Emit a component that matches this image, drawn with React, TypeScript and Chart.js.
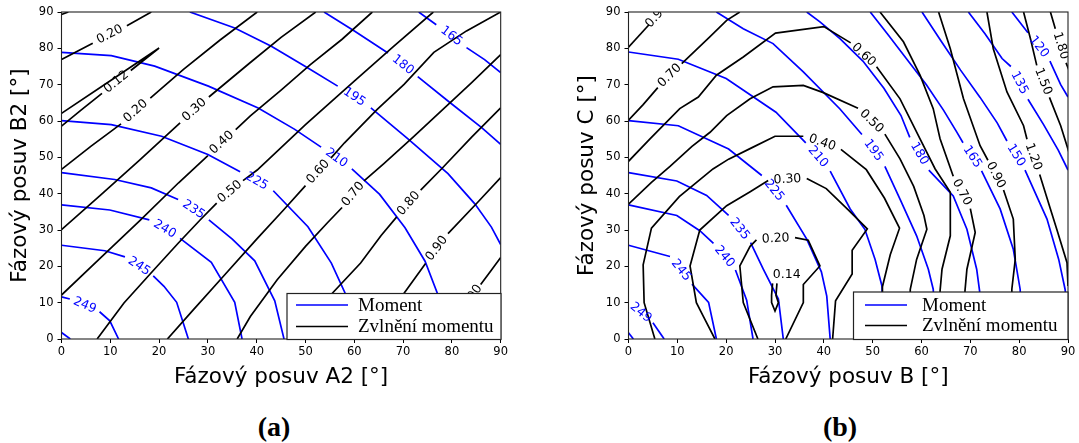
import React, { useEffect, useRef } from "react";
import { Chart, registerables } from "chart.js";

Chart.register(...registerables);

type Pt = [number, number] | null;

// ---------- axes ----------
const axisMin = 0;
const axisMax = 90;
const axisStep = 10;

// ---------- chart (a): Moment contours (blue) ----------
const aMomentCorner: Pt[] = [[0, 1.8], [1.8, 0]];
const aMoment249: Pt[] = [[0, 11.6], [1.7, 11], null, [7.8, 7.5], [9.9, 5], [11.7, 0]];
const aMoment245: Pt[] = [[0, 25.8], [8.9, 24.3], [13, 22.6], null, [18.8, 17.4], [21, 14.5], [23.6, 10.1], [26, 0]];
const aMoment240: Pt[] = [[0, 36.9], [9.9, 35.5], [18, 32.8], null, [24.3, 27.7], [30.7, 21.1], [35.5, 10.1], [37, 0]];
const aMoment235: Pt[] = [[0, 45.8], [10.9, 43.9], [18.4, 41.6], [23.9, 38.4], null, [30.2, 32.8], [35, 27.5], [39.6, 21.5], [43.7, 10.5], [45.6, 0]];
const aMoment225: Pt[] = [[0, 60.1], [10.2, 59], [20.5, 55.8], [30, 50.8], [36.6, 46], null, [43.4, 40.8], [50.5, 30.9], [55.3, 20.9], [58.1, 12.7], [59.1, 0]];
const aMoment210: Pt[] = [[0, 78.9], [10.2, 78], [19.1, 75.1], [30.1, 69.6], [40.3, 63.6], [47.8, 57.7], [53.2, 52.8], null, [59.5, 46.8], [65.2, 39.8], [70.4, 30.6], [74.5, 21.4], [77, 12.7], [78.3, 0]];
const aMoment195: Pt[] = [[26.3, 90], [35.5, 85.6], [43, 80.6], [50.5, 74.6], [56.6, 69.6], null, [63.4, 63.6], [71, 55.1], [79.2, 45.5], [84.7, 37.2], [88.1, 30.8], [90, 26]];
const aMoment180: Pt[] = [[53.8, 90], [60.1, 84.7], [66.9, 78.7], null, [73, 72.2], [79.2, 65.5], [86.1, 58.2], [90, 53.6]];
const aMoment165: Pt[] = [[73.2, 90], [76.8, 86.5], null, [83, 80.2], [86.7, 76.9], [90, 73.3]];

// ---------- chart (a): ripple contours (black) ----------
const aRippleCorner: Pt[] = [[0, 89.3], [1.4, 90]];
const aRipple020u: Pt[] = [[0, 76.9], [6.4, 81.4], null, [13.4, 86.2], [18.4, 90]];
const aRipple012: Pt[] = [[0, 58.6], [4, 63], [8.3, 67.6], null, [14.2, 73.9], [20, 80.1], [10, 71.1], [0, 62.1]];
const aRipple020l: Pt[] = [[0, 46.7], [6, 53], [12.2, 59.2], null, [18.2, 66.3], [25, 74.2], [32.5, 82.3], [40.1, 90]];
const aRipple030: Pt[] = [[0, 30.1], [8, 39.6], [16, 49.2], [24.3, 59.5], null, [30.2, 66.6], [38.7, 76.1], [45, 83], [52.1, 90]];
const aRipple040: Pt[] = [[0, 12.1], [8, 22.3], [16, 32.5], [24, 43], [30, 50.5], null, [35.7, 57.6], [38.7, 61.4], [45, 68.5], [51, 75.5], [57.5, 82.5], [63.7, 90]];
const aRipple050: Pt[] = [[7.3, 0], [12.8, 9.9], [18.9, 19], [24, 26.5], [28.5, 32.9], [31.8, 37.4], null, [37.2, 43.6], [40.1, 46.5], [50, 59], [60, 71], [68, 80.5], [76.2, 90]];
const aRipple060: Pt[] = [[21.7, 0], [27, 8], [33, 17], [40, 27.5], [45.5, 35.5], [50, 42.2], null, [55.2, 49.8], [58, 54], [64.7, 63.2], [70.2, 70.1], [76.3, 78.9], [83, 84.8], [90, 90]];
const aRipple070: Pt[] = [[36, 0], [38.7, 6.2], [44.2, 16.3], [50, 25.5], [54.5, 32], [57.5, 36.2], null, [62, 43.5], [66, 48.2], [72, 55.5], [78, 63], [84, 70.5], [90, 78.3]];
const aRipple080: Pt[] = [[48.5, 0], [55.5, 12.6], [61.3, 20.9], [65.5, 28.5], [68.7, 33.6], null, [73.6, 41], [78, 47], [84, 55.5], [90, 63.6]];
const aRipple090: Pt[] = [[64, 0], [70.2, 12.6], [74.6, 20.8], null, [79.2, 29], [85.2, 37.5], [90, 44.4]];
const aRipple100: Pt[] = [[78, 0], [82.2, 7.8], null, [85.9, 15], [88, 18.8], [90, 22.4]];

// ---------- chart (b): Moment contours (blue) ----------
const bMomentCorner: Pt[] = [[0, 1.7], [1, 0]];
const bMoment249: Pt[] = [[0, 10], null, [5, 4.5], [7.3, 0]];
const bMoment245: Pt[] = [[0, 25.8], [8.5, 22.7], null, [13, 15.1], [16.4, 10.1], [18, 0]];
const bMoment240: Pt[] = [[0, 36.9], [9.9, 34], [14.6, 29.8], [17.4, 26.3], null, [21.9, 19], [24.2, 10.7], [25.5, 0]];
const bMoment235: Pt[] = [[0, 45.8], [9.9, 43.5], [16, 39.5], [20.5, 34], null, [25, 26.5], [27.6, 19.2], [30.7, 11], [31.7, 0]];
const bMoment225: Pt[] = [[0, 60.1], [10.2, 58.7], [20.5, 52.3], [27.3, 45], null, [32.3, 36.8], [36.5, 27.5], [39.5, 18.5], [40.6, 11.8], [41.3, 0]];
const bMoment210: Pt[] = [[0, 79], [10.2, 77], [20, 71.7], [30.2, 62.4], [36.3, 54], null, [41.3, 46.2], [45.4, 35.8], [48.4, 30.2], [50.5, 21.9], [51.9, 14.6], [52.3, 0]];
const bMoment195: Pt[] = [[18, 90], [23.5, 85.4], [29.6, 81.3], [35.8, 73.5], [43.3, 63.3], [47.8, 56.3], null, [52.5, 47.5], [55.6, 38.5], [59, 28.4], [61.4, 19.2], [62.4, 13.7], [63, 0]];
const bMoment180: Pt[] = [[36.5, 90], [39.2, 87.3], [43.3, 82.7], [48, 76.5], [52.3, 69], [55.8, 61.5], [57.6, 55.5], null, [61.5, 46.5], [66.5, 39.4], [69.3, 30.2], [71.3, 19.2], [71.9, 13.2], [72.2, 0]];
const bMoment165: Pt[] = [[49.5, 90], [53, 84], [57, 77], [61, 70], [64.5, 63], [67.2, 57], [68.5, 54], null, [72.3, 46.3], [76.1, 35.8], [78.8, 24.7], [80.2, 13.7], [80.6, 0]];
const bMoment150: Pt[] = [[60.1, 90], [64, 82], [68, 74], [72, 66.5], [75.5, 59.5], [77.5, 54.5], null, [81.2, 46.5], [85.7, 33], [88.1, 21.9], [89.4, 13.7], [90, 6]];
const bMoment135: Pt[] = [[69.6, 90], [73, 84], [76.5, 77.2], [78.3, 75], null, [81.8, 66], [85, 59], [88, 52], [90, 46.5]];
const bMoment120: Pt[] = [[78.5, 90], [81.8, 84.3], null, [86.3, 76.5], [88.5, 70], [90, 66.6]];

// ---------- chart (b): ripple contours (black) ----------
const bRipple014: Pt[] = [[29.5, 15.3], [29.3, 12], [29.3, 10], [30, 7.7], [30.7, 10], [30.2, 12], [30.4, 15.3]];
const bRipple020: Pt[] = [[26.5, 0], [23.5, 10], [22.8, 20.1], [24.9, 25.5], [26.2, 27.3], null, [34.1, 27.9], [36.8, 27.2], [39.2, 20.1], [35.8, 15], [35.8, 10], [32.2, 0]];
const bRipple030: Pt[] = [[17.7, 0], [15.3, 6.3], [13.9, 10], [12.6, 20.1], [14.6, 30], [20.1, 36.7], [25, 40.6], [28.6, 43.6], null, [36.5, 44.2], [40.5, 41.4], [45.1, 35.4], [48.9, 30.3], [45.8, 24.4], [45.8, 17.9], [42.4, 10.5], [41.8, 0]];
const bRipple040: Pt[] = [[5.4, 0], [3.2, 10], [3, 20.4], [4.7, 30.5], [10.4, 39.2], [17.3, 46.8], [20.5, 49.5], [25.2, 52.6], [30, 55.8], [35.8, 55.8], null, [43.5, 52.2], [48.7, 46.6], [52.4, 38.8], [55.5, 30.5], [53.6, 23.2], [52, 14.4], [52, 0]];
const bRipple050: Pt[] = [[0, 37.1], [4.7, 43.1], [8.5, 47.5], [13, 53], [16.7, 56.9], [20.1, 61.5], [24.9, 66.1], [29.6, 69.4], [35.8, 69.8], [39.9, 67.8], [47, 63.5], null, [52.5, 56.4], [55.6, 49.6], [58.4, 42], [60.5, 34], [61.1, 30.2], [59, 21.9], [57.7, 13.7], [57.5, 0]];
const bRipple060: Pt[] = [[0, 48.9], [4.4, 55.1], [10.5, 63.4], [14.3, 66.6], [18, 72.6], [23.5, 77.6], [30.1, 84.2], [40, 86], [45.5, 81.5], null, [50.8, 74.9], [55.6, 66.1], [59.7, 55.1], [62.8, 46.8], [65.9, 40.4], [65.9, 28.4], [64.2, 19.2], [63.8, 13.2], [64, 0]];
const bRipple070L: Pt[] = [[0, 60.2], [3, 64.5], [6, 69.2], null, [10.9, 75.8], [16.7, 83.2], [20.1, 87.7], [22.8, 90]];
const bRipple070R: Pt[] = [[51.5, 90], [56.3, 81.8], [59.7, 72.6], [62.4, 63.4], [63.8, 55.1], [66.5, 44.8], null, [70, 35.9], [71, 29.3], [69.3, 19.2], [68.9, 13.2], [69, 0]];
const bRipple090L: Pt[] = [[0, 80.3], [4.2, 86.5], null, [7.5, 91.5]];
const bRipple090R: Pt[] = [[63.5, 90], [65.9, 79.9], [68.6, 66.1], [72, 53.2], [73.6, 49.2], null, [76.8, 41], [78.8, 33], [79.2, 21.9], [78.5, 13.7], [78.5, 0]];
const bRipple120: Pt[] = [[73.4, 90], [74.7, 79.9], [77.5, 68], [80.9, 58.7], [81.6, 55], null, [84.2, 45.3], [86.4, 35.8], [87.7, 30.2], [89.8, 21], [90, 14.6]];
const bRipple150: Pt[] = [[80.9, 90], [82.3, 82.7], [83.6, 75.3], null, [86.2, 66.5], [88.5, 58.7], [90.2, 51.4]];
const bRipple180: Pt[] = [[86.4, 90], [87.4, 85.4], null, [89.6, 76], [90.2, 74]];
const bExtraLabels: [string, number, number, number][] = [["0.14", 32.4, 17.6, 0]];

// ---------- level / series lists ----------
const momentA: [string, Pt[]][] = [
  ["", aMomentCorner], ["249", aMoment249], ["245", aMoment245], ["240", aMoment240], ["235", aMoment235],
  ["225", aMoment225], ["210", aMoment210], ["195", aMoment195], ["180", aMoment180], ["165", aMoment165],
];
const rippleA: [string, Pt[]][] = [
  ["", aRippleCorner], ["0.20", aRipple020u], ["0.12", aRipple012], ["0.20", aRipple020l], ["0.30", aRipple030],
  ["0.40", aRipple040], ["0.50", aRipple050], ["0.60", aRipple060], ["0.70", aRipple070], ["0.80", aRipple080],
  ["0.90", aRipple090], ["1.00", aRipple100],
];
const momentB: [string, Pt[]][] = [
  ["", bMomentCorner], ["249", bMoment249], ["245", bMoment245], ["240", bMoment240], ["235", bMoment235],
  ["225", bMoment225], ["210", bMoment210], ["195", bMoment195], ["180", bMoment180], ["165", bMoment165],
  ["150", bMoment150], ["135", bMoment135], ["120", bMoment120],
];
const rippleB: [string, Pt[]][] = [
  ["0.14", bRipple014], ["0.20", bRipple020], ["0.30", bRipple030], ["0.40", bRipple040], ["0.50", bRipple050],
  ["0.60", bRipple060], ["0.70", bRipple070L], ["0.70", bRipple070R], ["0.90", bRipple090L], ["0.90", bRipple090R],
  ["1.20", bRipple120], ["1.50", bRipple150], ["1.80", bRipple180],
];

const legendLabels = ["Moment", "Zvlnění momentu"];

const BLUE = "#0000ff";
const BLACK = "#000000";

function toData(pts: Pt[]) {
  return pts.map((p) => (p ? { x: p[0], y: p[1] } : { x: NaN, y: NaN }));
}

function makeSets(list: [string, Pt[]][], color: string, kind: string) {
  return list.map(([lvl, pts]) => ({
    label: lvl,
    kind,
    data: toData(pts),
    showLine: true,
    borderColor: color,
    backgroundColor: color,
    borderWidth: 1.7,
    pointRadius: 0,
    pointHoverRadius: 0,
    spanGaps: false,
    tension: 0,
    clip: 0,
  }));
}

const contourLabelPlugin = {
  id: "contourLabels",
  afterDatasetsDraw(chart: any, _args: any, opts: any) {
    const { ctx, chartArea: ca } = chart;
    const xs = chart.scales.x;
    const ys = chart.scales.y;
    ctx.save();
    ctx.beginPath();
    ctx.rect(ca.left, ca.top, ca.right - ca.left, ca.bottom - ca.top);
    ctx.clip();
    ctx.font = `${opts.size}px "DejaVu Sans"`;
    ctx.textAlign = "center";
    ctx.textBaseline = "middle";
    const put = (text: string, px: number, py: number, ang: number, color: string) => {
      ctx.save();
      ctx.translate(px, py);
      ctx.rotate(ang);
      ctx.fillStyle = color;
      ctx.fillText(text, 0, 0);
      ctx.restore();
    };
    chart.data.datasets.forEach((ds: any) => {
      const d = ds.data;
      for (let i = 1; i < d.length - 1; i++) {
        if (isNaN(d[i].x) && !isNaN(d[i - 1].x) && !isNaN(d[i + 1].x)) {
          const x0 = xs.getPixelForValue(d[i - 1].x);
          const y0 = ys.getPixelForValue(d[i - 1].y);
          const x1 = xs.getPixelForValue(d[i + 1].x);
          const y1 = ys.getPixelForValue(d[i + 1].y);
          let ang = Math.atan2(y1 - y0, x1 - x0);
          if (ang > Math.PI / 2) ang -= Math.PI;
          if (ang < -Math.PI / 2) ang += Math.PI;
          put(ds.label, (x0 + x1) / 2, (y0 + y1) / 2, ang, ds.borderColor);
        }
      }
    });
    (opts.extra || []).forEach((e: any) => {
      put(e[0], xs.getPixelForValue(e[1]), ys.getPixelForValue(e[2]), (e[3] * Math.PI) / 180, BLACK);
    });
    ctx.restore();
  },
};

const framePlugin = {
  id: "frameBox",
  afterDatasetsDraw(chart: any) {
    const { ctx, chartArea: ca } = chart;
    ctx.save();
    ctx.strokeStyle = "#222";
    ctx.lineWidth = 1.1;
    ctx.strokeRect(ca.left, ca.top, ca.right - ca.left, ca.bottom - ca.top);
    ctx.restore();
  },
};

const boxLegendPlugin = {
  id: "boxLegend",
  afterDraw(chart: any, _args: any, o: any) {
    const { ctx } = chart;
    ctx.save();
    ctx.fillStyle = "#fff";
    ctx.fillRect(o.x, o.y, o.w, o.h);
    ctx.strokeStyle = "#222";
    ctx.lineWidth = 1.2;
    ctx.strokeRect(o.x, o.y, o.w, o.h);
    const rows = [
      { c: BLUE, t: legendLabels[0], y: o.y1 },
      { c: BLACK, t: legendLabels[1], y: o.y2 },
    ];
    ctx.font = `${o.size}px "Liberation Serif"`;
    ctx.textAlign = "left";
    ctx.textBaseline = "middle";
    rows.forEach((r) => {
      ctx.strokeStyle = r.c;
      ctx.lineWidth = 1.7;
      ctx.beginPath();
      ctx.moveTo(o.s0, r.y);
      ctx.lineTo(o.s1, r.y);
      ctx.stroke();
      ctx.fillStyle = "#000";
      ctx.fillText(r.t, o.tx, r.y + 1);
    });
    ctx.restore();
  },
};

type Props = {
  moment: [string, Pt[]][];
  ripple: [string, Pt[]][];
  xTitle: string;
  yTitle: string;
  left: number;
  width: number;
  padRight: number;
  legend: any;
  extra: any[];
};

function ContourChart(p: Props) {
  const ref = useRef<HTMLCanvasElement>(null);
  useEffect(() => {
    const tickFont = { family: "DejaVu Sans", size: 11.5 };
    const titleFont = { family: "DejaVu Sans", size: 21.5 };
    const chart = new Chart(ref.current as HTMLCanvasElement, {
      type: "scatter",
      data: {
        datasets: [...makeSets(p.ripple, BLACK, "ripple"), ...makeSets(p.moment, BLUE, "moment")] as any,
      },
      options: {
        responsive: false,
        animation: false,
        devicePixelRatio: 1,
        events: [],
        layout: { padding: { left: 0, top: 12, right: p.padRight, bottom: 0 } },
        plugins: {
          legend: { display: false },
          tooltip: { enabled: false },
          contourLabels: { size: 12.5, extra: p.extra },
          boxLegend: p.legend,
        } as any,
        scales: {
          x: {
            type: "linear",
            min: axisMin,
            max: axisMax,
            ticks: { stepSize: axisStep, font: tickFont, color: "#000", padding: 2, maxRotation: 0, autoSkip: false },
            grid: { drawOnChartArea: false, tickLength: 4, tickColor: "#000", tickWidth: 1 },
            border: { display: false },
            title: { display: true, text: p.xTitle, font: titleFont, color: "#000", padding: { top: 0, bottom: 9.5 } },
            afterFit: (s: any) => {
              s.height = 61;
            },
          },
          y: {
            type: "linear",
            min: axisMin,
            max: axisMax,
            ticks: { stepSize: axisStep, font: tickFont, color: "#000", padding: 4 },
            grid: { drawOnChartArea: false, tickLength: 4, tickColor: "#000", tickWidth: 1 },
            border: { display: false },
            title: { display: true, text: p.yTitle, font: titleFont, color: "#000", padding: { top: 7.4, bottom: 0 } },
            afterFit: (s: any) => {
              s.width = 61.5;
            },
          },
        } as any,
      },
      plugins: [contourLabelPlugin, framePlugin, boxLegendPlugin],
    });
    return () => chart.destroy();
  }, []);
  return (
    <canvas
      ref={ref}
      width={p.width}
      height={400}
      style={{ position: "absolute", left: p.left, top: 0, width: p.width, height: 400 }}
    />
  );
}

export default function App() {
  const capStyle: React.CSSProperties = {
    position: "absolute",
    top: 411,
    width: 100,
    textAlign: "center",
    font: 'bold 28px "Liberation Serif"',
    lineHeight: "32px",
    color: "#000",
  };
  return (
    <div style={{ position: "absolute", left: 0, top: 0, width: 1079, height: 443, background: "#fff", overflow: "hidden" }}>
      <ContourChart
        moment={momentA}
        ripple={rippleA}
        xTitle="Fázový posuv A2 [°]"
        yTitle="Fázový posuv B2 [°]"
        left={0}
        width={510}
        padRight={9}
        legend={{ x: 287, y: 293.5, w: 214, h: 46, s0: 296, s1: 348, tx: 358, y1: 305, y2: 326.5, size: 19 }}
        extra={[]}
      />
      <ContourChart
        moment={momentB}
        ripple={rippleB}
        xTitle="Fázový posuv B [°]"
        yTitle="Fázový posuv C [°]"
        left={567}
        width={512}
        padRight={11}
        legend={{ x: 286.5, y: 292, w: 214.5, h: 47.5, s0: 298, s1: 340, tx: 355, y1: 305, y2: 325.5, size: 19 }}
        extra={bExtraLabels}
      />
      <div style={{ ...capStyle, left: 224 }}>(a)</div>
      <div style={{ ...capStyle, left: 790 }}>(b)</div>
    </div>
  );
}
